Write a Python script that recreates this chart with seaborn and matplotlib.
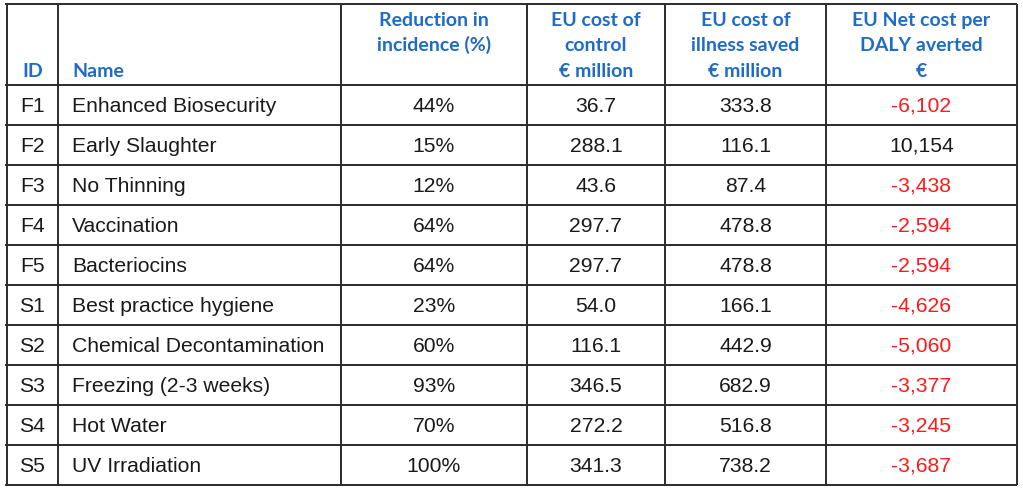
import matplotlib
matplotlib.use("Agg")
import matplotlib.pyplot as plt
import seaborn as sns

# table content
ids = ["F1", "F2", "F3", "F4", "F5", "S1", "S2", "S3", "S4", "S5"]
names = ["Enhanced Biosecurity", "Early Slaughter", "No Thinning", "Vaccination",
         "Bacteriocins", "Best practice hygiene", "Chemical Decontamination",
         "Freezing (2-3 weeks)", "Hot Water", "UV Irradiation"]
reduction = [44, 15, 12, 64, 64, 23, 60, 93, 70, 100]
cost_control = [36.7, 288.1, 43.6, 297.7, 297.7, 54.0, 116.1, 346.5, 272.2, 341.3]
cost_saved = [333.8, 116.1, 87.4, 478.8, 478.8, 166.1, 442.9, 682.9, 516.8, 738.2]
net_cost = [-6102, 10154, -3438, -2594, -2594, -4626, -5060, -3377, -3245, -3687]
headers = [["ID"], ["Name"], ["Reduction in", "incidence (%)"],
           ["EU cost of", "control", "€ million"],
           ["EU cost of", "illness saved", "€ million"],
           ["EU Net cost per", "DALY averted", "€"]]

sns.set_theme(style="white")

# layout (pixels)
col_edges = [7, 58, 341, 527, 665, 826, 1017]
top, head_bottom, row_h = 4, 85, 40
blue = "#1F6BC6"
body_font = ["Liberation Sans", "DejaVu Sans"]
head_font = ["Lato", "DejaVu Sans"]
head_size, body_size = 14, 15.2

fig = plt.figure(figsize=(10.23, 4.91), dpi=100)
ax = fig.add_axes([0, 0, 1, 1])
ax.set_xlim(0, 1023)
ax.set_ylim(491, 0)
ax.axis("off")

n = len(ids)
bottom = head_bottom + n * row_h
line_kw = dict(color="#2b2b2b", lw=1.4)
ax.hlines([top, head_bottom] + [head_bottom + (i + 1) * row_h for i in range(n)],
          col_edges[0] - 2, col_edges[-1], **line_kw)
ax.vlines(col_edges, top, bottom, **line_kw)

# headers
line_y = [20, 45, 71]
for c, lines in enumerate(headers):
    start = 0 if len(lines) != 1 else 2
    for k, txt in enumerate(lines):
        y = line_y[start + k]
        if c == 1:
            ax.text(col_edges[1] + 14, y, txt, ha="left", va="center",
                    fontsize=head_size, fontweight="bold", color=blue, family=head_font)
        else:
            ax.text((col_edges[c] + col_edges[c + 1]) / 2, y, txt, ha="center",
                    va="center", fontsize=head_size, fontweight="bold", color=blue,
                    family=head_font)

# body
centers = [(col_edges[c] + col_edges[c + 1]) / 2 for c in range(6)]
for i in range(n):
    y = head_bottom + i * row_h + row_h / 2 + 1
    kw = dict(va="center", fontsize=body_size, family=body_font, color="#1a1a1a")
    ax.text(centers[0], y, ids[i], ha="center", **kw)
    ax.text(col_edges[1] + 14, y, names[i], ha="left", **kw)
    ax.text(centers[2], y, f"{reduction[i]}%", ha="center", **kw)
    ax.text(centers[3], y, f"{cost_control[i]:.1f}", ha="center", **kw)
    ax.text(centers[4], y, f"{cost_saved[i]:.1f}", ha="center", **kw)
    kw["color"] = "#FF1A1A" if net_cost[i] < 0 else "#1a1a1a"
    ax.text(centers[5], y, f"{net_cost[i]:,}", ha="center", **kw)

fig.savefig("out.png", dpi=100, facecolor="white")
